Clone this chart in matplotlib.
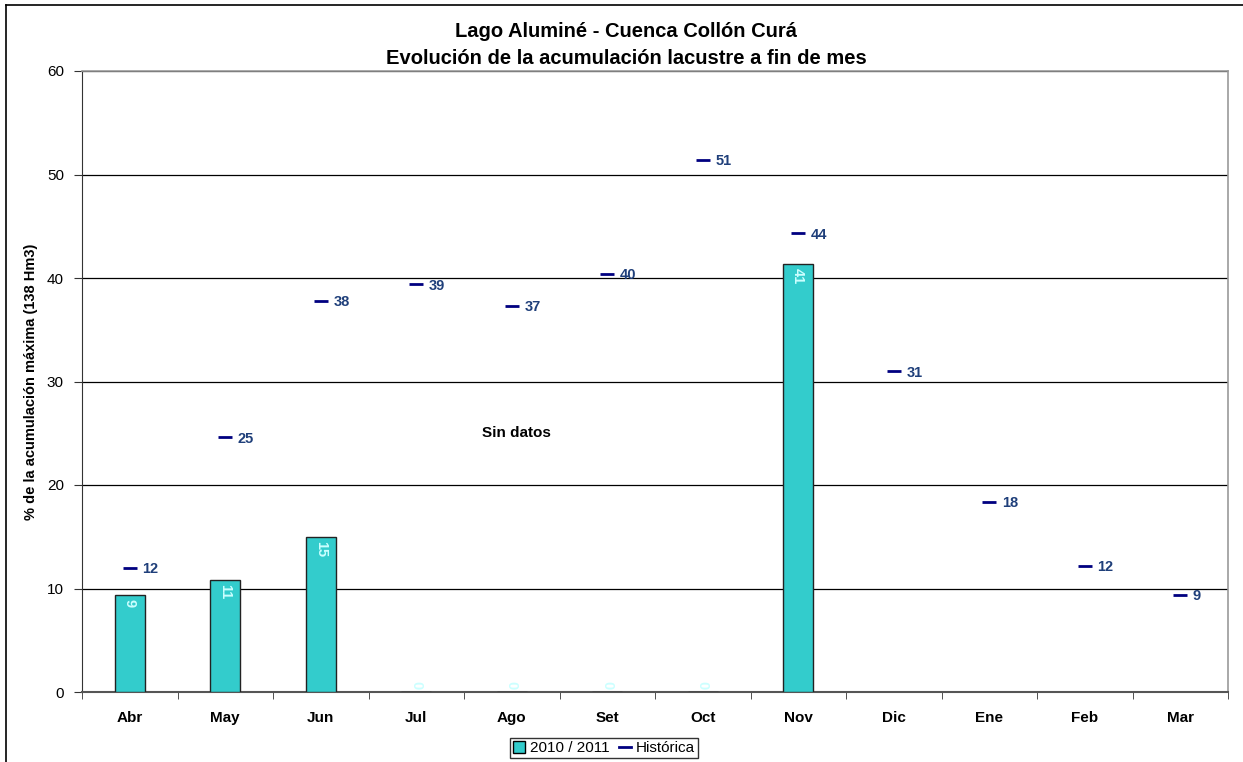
import matplotlib
matplotlib.use("Agg")
import matplotlib.pyplot as plt
from matplotlib.lines import Line2D
from matplotlib.patches import Patch

plt.rcParams['font.family'] = ['Liberation Sans', 'DejaVu Sans']

# Months of the hydrological year
meses = ["Abr", "May", "Jun", "Jul", "Ago", "Set", "Oct", "Nov", "Dic", "Ene", "Feb", "Mar"]

# 2010/2011 storage (% of max, 138 Hm3); None = no data yet
acum_2010 = [9.4, 10.8, 15.0, 0, 0, 0, 0, 41.4, None, None, None, None]

# Historical mean storage at end of month
historica = [12.0, 24.6, 37.8, 39.4, 37.3, 40.4, 51.4, 44.3, 31.0, 18.4, 12.2, 9.4]

titulo = "Lago Aluminé - Cuenca Collón Curá\nEvolución de la acumulación lacustre a fin de mes"
ylabel = "% de la acumulación máxima (138 Hm3)"
yticks = [0, 10, 20, 30, 40, 50, 60]

BAR_COLOR = "#33CCCC"
HIST_COLOR = "#000080"
HIST_LABEL_COLOR = "#1F3F7A"

fig = plt.figure(figsize=(12.43, 7.62), dpi=100)
W, H = 1243, 762
ax = fig.add_axes([82 / W, 1 - 692 / H, (1228 - 82) / W, (692 - 71) / H])

x = list(range(len(meses)))

# Bars for the current season
bx = [i for i, v in zip(x, acum_2010) if v is not None]
bv = [v for v in acum_2010 if v is not None]
ax.bar(bx, bv, width=0.31, color=BAR_COLOR, edgecolor="#222222", linewidth=1.0, zorder=3)
for i, v in zip(bx, bv):
    if v > 0:
        ax.annotate(f"{v:.0f}", (i, v), xytext=(0, -3), textcoords="offset points",
                    rotation=270, ha="center", va="top", color="#CCFFFF",
                    fontsize=10.5, fontweight="bold", zorder=4)
    else:
        ax.annotate(f"{v:.0f}", (i, v), xytext=(0, 2), textcoords="offset points",
                    rotation=270, ha="center", va="bottom", color="#CCFFFF",
                    fontsize=10.5, fontweight="bold", zorder=4)

# Historical values as short dashes with labels
ax.plot(x, historica, linestyle="none", marker="_", markersize=10, markeredgewidth=2,
        color=HIST_COLOR, zorder=5)
for i, v in zip(x, historica):
    ax.annotate(f"{v:.0f}", (i, v), xytext=(9, -1), textcoords="offset points",
                ha="left", va="center", color=HIST_LABEL_COLOR,
                fontsize=10.5, fontweight="bold", zorder=5)

ax.text(4.05, 25.0, "Sin datos", ha="center", va="center", fontsize=11,
        fontweight="bold", color="black")

# Axes
ax.set_xlim(-0.5, len(meses) - 0.5)
ax.set_ylim(0, 60)
ax.set_yticks(yticks)
ax.set_yticklabels([str(t) for t in yticks], fontsize=11)
ax.set_xticks(x)
ax.set_xticklabels(meses, fontsize=11, fontweight="bold")
ax.set_xticks([i - 0.5 for i in range(len(meses) + 1)], minor=True)
ax.tick_params(axis="x", which="major", length=0, pad=14)
ax.tick_params(axis="x", which="minor", length=5, direction="out", color="#333333")
ax.tick_params(axis="y", length=6, direction="out", pad=7, color="#333333")

ax.grid(axis="y", color="black", linewidth=0.9, zorder=0)
ax.set_axisbelow(True)
for side in ("top", "right"):
    ax.spines[side].set_color("#999999")
    ax.spines[side].set_linewidth(1.2)
ax.spines["left"].set_color("#333333")
ax.spines["bottom"].set_color("#555555")
ax.spines["bottom"].set_linewidth(1.5)

ax.set_ylabel(ylabel, fontsize=10.5, fontweight="bold")
ax.yaxis.set_label_coords(-44 / (1228 - 82), 0.5)

fig.text(626 / W, 1 - 45 / H, titulo, ha="center", va="center", fontsize=14.5,
         fontweight="bold", linespacing=1.5)

# Legend
handles = [Patch(facecolor=BAR_COLOR, edgecolor="black", label="2010 / 2011"),
           Line2D([], [], color=HIST_COLOR, linewidth=2, label="Histórica")]
leg = fig.legend(handles=handles, loc="center", bbox_to_anchor=(604 / W, 1 - 748 / H),
                 ncol=2, frameon=True, fancybox=False, fontsize=11,
                 handlelength=0.8, handleheight=0.8, handletextpad=0.3,
                 columnspacing=0.6, borderpad=0.2, borderaxespad=0)
leg.get_frame().set_edgecolor("black")
leg.get_frame().set_linewidth(1.0)

# Outer chart frame
fig.add_artist(Line2D([6 / W, 6 / W], [0, 1 - 5 / H], transform=fig.transFigure,
                      color="black", linewidth=1.2))
fig.add_artist(Line2D([6 / W, 1], [1 - 5 / H, 1 - 5 / H], transform=fig.transFigure,
                      color="black", linewidth=1.2))

fig.savefig("out.png", dpi=100)
